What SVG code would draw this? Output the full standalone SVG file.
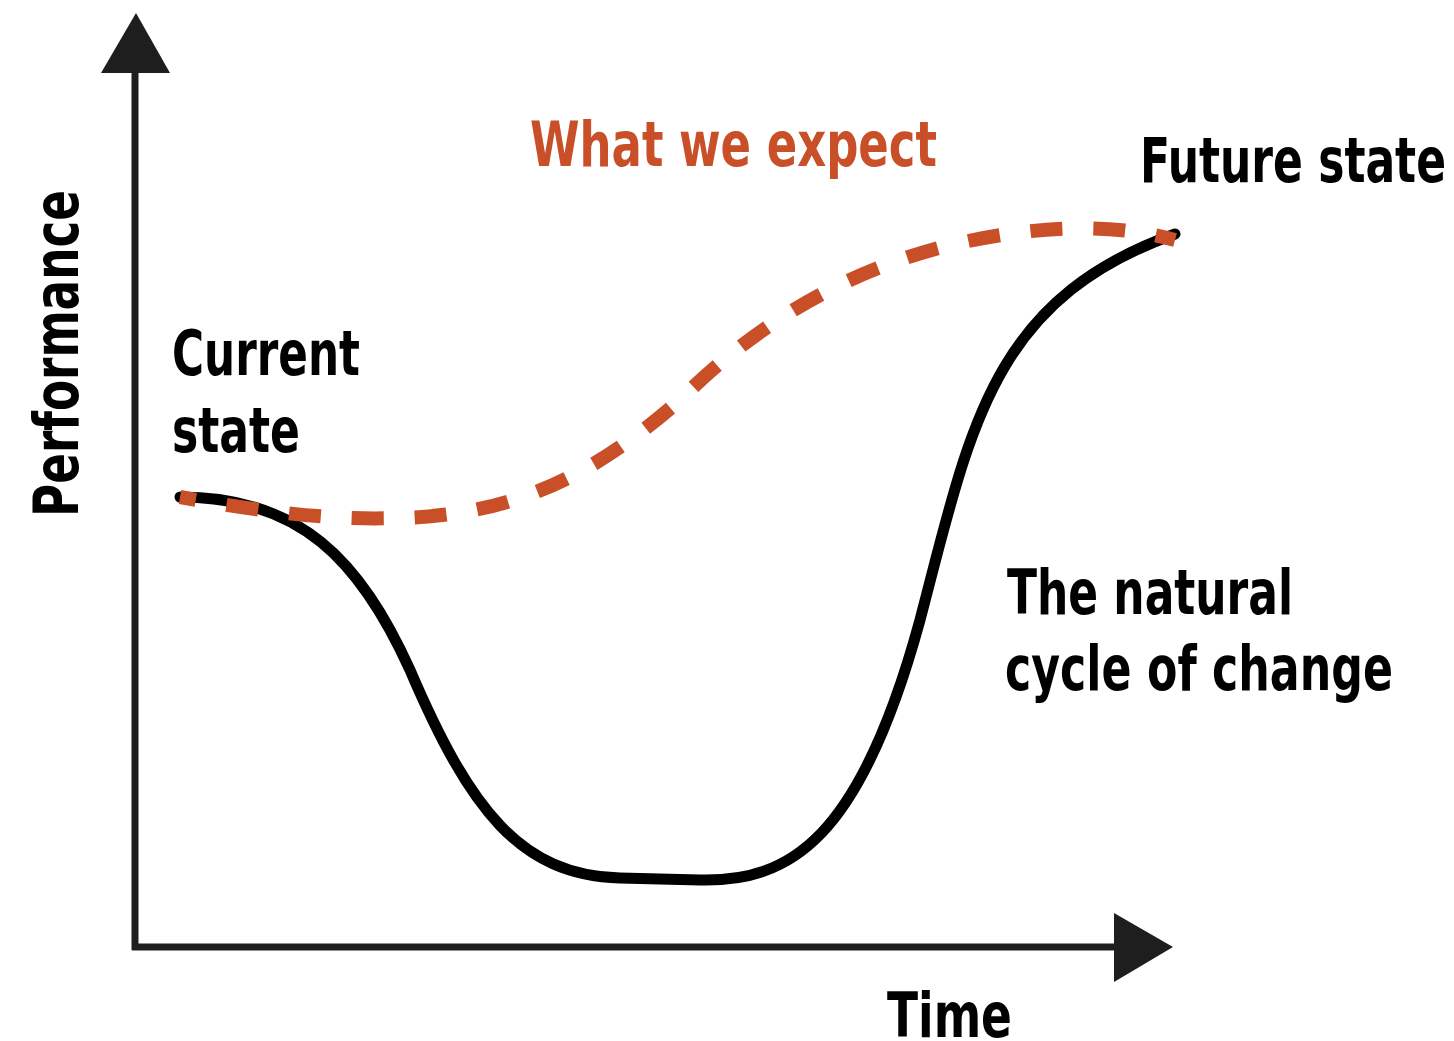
<svg xmlns="http://www.w3.org/2000/svg" width="1454" height="1041" viewBox="0 0 1454 1041">
<style>
.t{font-family:"DejaVu Sans","Liberation Sans",sans-serif;font-weight:bold;font-stretch:condensed;font-size:62px;fill:#000}
.o{fill:#C84F27}
.ax{stroke:#1e1e1e;stroke-width:7;fill:none}
.ah{fill:#1e1e1e}
</style>
<rect width="1454" height="1041" fill="#fff"/>
<g id="axes">
<line class="ax" x1="135" y1="70" x2="135" y2="950"/>
<line class="ax" x1="132" y1="947" x2="1120" y2="947"/>
<polygon class="ah" points="136,13 170,73 101,73"/>
<polygon class="ah" points="1173,947 1114,913 1114,982"/>
</g>
<g id="connectors">
<path id="natural-curve" d="M180,497 C300,497 360,560 410,670 C470,810 520,875 620,878 L700,880 C790,882 860,840 920,620 C970,430 990,300 1175,234" fill="none" stroke="#000" stroke-width="11" stroke-linecap="round"/>
<path id="expect-curve" d="M180,497 C280,515 340,520 400,518 C520,515 600,470 680,400 C760,320 850,270 950,245 C1050,222 1120,225 1175,240" fill="none" stroke="#C84F27" stroke-width="14" stroke-dasharray="32 31" stroke-dashoffset="16"/>
</g>
<g id="label-expect"><text class="t o" x="530" y="166" textLength="407" lengthAdjust="spacingAndGlyphs">What we expect</text></g>
<g id="label-future"><text class="t" x="1140" y="182" textLength="306" lengthAdjust="spacingAndGlyphs">Future state</text></g>
<g id="label-current"><text class="t" x="172" y="375" textLength="188" lengthAdjust="spacingAndGlyphs">Current</text><text class="t" x="172" y="452" textLength="128" lengthAdjust="spacingAndGlyphs">state</text></g>
<g id="label-natural"><text class="t" x="1007" y="614" textLength="286" lengthAdjust="spacingAndGlyphs">The natural</text><text class="t" x="1005" y="690" textLength="388" lengthAdjust="spacingAndGlyphs">cycle of change</text></g>
<g id="label-time"><text class="t" x="887" y="1037" textLength="125" lengthAdjust="spacingAndGlyphs">Time</text></g>
<g id="label-performance"><text class="t" transform="translate(78,517) rotate(-90)" x="0" y="0" textLength="327" lengthAdjust="spacingAndGlyphs">Performance</text></g>
</svg>
